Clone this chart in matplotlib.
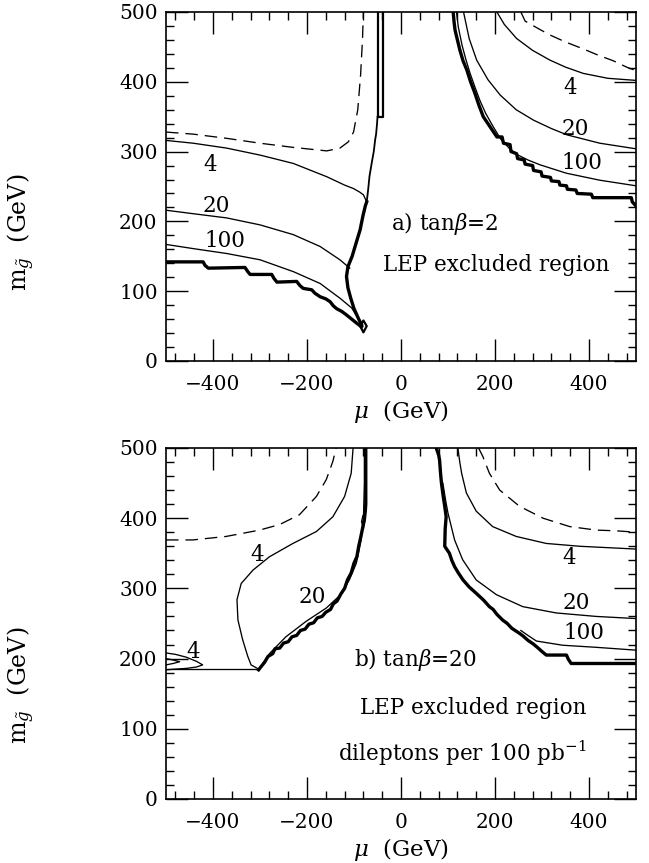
import numpy as np
import matplotlib
matplotlib.use("Agg")
import matplotlib.pyplot as plt

plt.rcParams['font.family'] = ['DejaVu Serif']
plt.rcParams['mathtext.fontset'] = 'dejavuserif'
plt.rcParams['lines.scale_dashes'] = False

# ---------------- panel a) tan(beta)=2 ----------------
# LEP boundary, left branch (staircase down to the tip)
a_lep_left_mu = [-500, -421, -417, -410, -332, -326, -321, -275, -270, -264, -222, -215, -208,
                 -190, -183, -172, -160, -151, -144, -137, -126, -116, -105, -94, -84]
a_lep_left_m = [142, 142, 137, 133, 134, 128, 124, 124, 118, 113, 114, 108, 104,
                102, 97, 92, 89, 85, 79, 75, 71, 66, 60, 54, 49]
# small diamond at the tip
a_tip_mu = [-87, -80, -73, -80, -87]
a_tip_m = [50, 58, 50, 41, 50]
# boundary rising from the tip (thick part)
a_rise_mu = [-84, -90, -100, -107, -113, -116, -113, -104, -96, -87, -81, -76, -73]
a_rise_m = [52, 60, 75, 90, 105, 121, 135, 150, 168, 188, 208, 222, 228]
# thin continuation up to the narrow strip
a_upper_mu = [-73, -70, -67, -62, -58, -55, -53, -51, -50]
a_upper_m = [228, 245, 265, 285, 300, 317, 325, 340, 350]
a_strip_mu = [-50, -50, -39, -39]
a_strip_m = [500, 350, 350, 500]
# LEP boundary, right branch
a_lep_right_mu = [111, 113, 115, 120, 125, 132, 140, 148, 157, 166, 175, 190, 204, 215, 218, 232,
                  234, 246, 248, 262, 264, 280, 282, 298, 300, 318, 320, 336, 338, 352, 354,
                  372, 375, 405, 408, 490, 492, 500]
a_lep_right_m = [500, 485, 474, 460, 446, 430, 417, 400, 384, 366, 350, 335, 321, 321, 312, 310,
                 300, 297, 290, 288, 282, 280, 273, 271, 265, 263, 258, 257, 252, 251, 246,
                 245, 240, 239, 234, 234, 228, 222]

# dilepton contours (events per 100 pb^-1), left side
a_c4_left_mu = [-500, -442, -371, -300, -229, -158, -120, -101, -88, -80, -73]
a_c4_left_m = [316, 312, 305, 295, 283, 264, 252, 247, 242, 238, 228]
a_c20_left_mu = [-500, -442, -371, -300, -229, -172, -130, -109]
a_c20_left_m = [216, 211, 205, 195, 181, 164, 145, 133]
a_c100_left_mu = [-500, -442, -371, -300, -229, -172, -130, -105, -92]
a_c100_left_m = [167, 161, 154, 145, 128, 111, 90, 76, 62]
# right side
a_c4_right_mu = [204, 220, 246, 280, 317, 350, 388, 440, 500]
a_c4_right_m = [500, 482, 462, 445, 431, 421, 412, 405, 402]
a_c20_right_mu = [133, 145, 161, 185, 211, 245, 282, 320, 353, 423, 500]
a_c20_right_m = [500, 462, 431, 403, 381, 360, 345, 333, 324, 312, 304]
a_c100_right_mu = [118, 122, 130, 138, 147, 157, 168, 180, 195, 212, 230, 246, 270, 296, 352, 423, 500]
a_c100_right_m = [500, 478, 452, 432, 412, 393, 373, 355, 337, 318, 305, 296, 288, 281, 269, 259, 251]
# dashed (LEP chargino limit)
a_dash_left_mu = [-500, -442, -371, -300, -229, -158, -130, -112, -101, -92, -86, -82, -80]
a_dash_left_m = [328, 325, 319, 312, 306, 301, 305, 314, 328, 360, 410, 460, 500]
a_dash_right_mu = [255, 264, 290, 317, 350, 388, 420, 452, 480, 500]
a_dash_right_m = [500, 487, 477, 467, 457, 447, 438, 430, 421, 416]

# ---------------- panel b) tan(beta)=20 ----------------
b_lep_left_mu = [-303, -290, -283, -273, -268, -258, -250, -240, -232, -222, -214, -204, -196,
                 -186, -178, -168, -160, -150, -144, -136, -128, -120, -114, -106, -100, -94,
                 -90, -86, -82, -78, -76, -75, -75]
b_lep_left_m = [184, 195, 203, 207, 214, 215, 222, 224, 231, 233, 240, 242, 249,
                251, 258, 260, 266, 270, 278, 282, 292, 300, 312, 322, 336, 345,
                360, 372, 385, 398, 410, 420, 500]
b_lep_right_mu = [75, 80, 82, 84, 86, 90, 93, 96, 94, 93, 103, 108, 114, 122, 132, 145, 160, 168,
                  176, 188, 196, 204, 216, 226, 236, 252, 260, 270, 281, 290, 300, 309, 352,
                  356, 362, 500]
b_lep_right_m = [500, 490, 483, 465, 450, 430, 417, 402, 385, 360, 350, 340, 331, 322, 312, 302,
                 293, 288, 283, 274, 270, 263, 255, 250, 243, 236, 232, 226, 221, 216, 210, 205,
                 205, 199, 193, 193]
b_flat_mu = [-500, -303]
b_flat_m = [185, 185]

b_c4_left_mu = [-102, -106, -120, -145, -180, -230, -280, -315, -340, -349, -347, -337, -326,
                -319, -303]
b_c4_left_m = [500, 464, 431, 402, 381, 364, 345, 326, 307, 284, 255, 227, 203, 191, 185]
b_c4_loop_mu = [-500, -480, -457, -435, -422, -435, -457, -480, -500]
b_c4_loop_m = [208, 206, 202, 196, 191, 188, 186, 185, 184]
b_c4_inner_mu = [-500, -485, -471, -485, -500]
b_c4_inner_m = [200, 198, 195.5, 193, 191]
b_c20_left_mu = [-303, -280, -245, -202, -159, -130, -110, -95, -85, -80, -78, -78]
b_c20_left_m = [184, 207, 231, 253, 272, 290, 312, 336, 369, 398, 450, 500]
b_lens_mu = [-80, -84, -81, -77, -80]
b_lens_m = [386, 395, 404, 396, 386]

b_c4_right_mu = [121, 125, 129, 139, 160, 195, 245, 309, 380, 440, 500]
b_c4_right_m = [500, 480, 464, 436, 410, 388, 374, 364, 360, 358, 356]
b_c20_right_mu = [89, 95, 100, 114, 131, 160, 203, 259, 330, 416, 500]
b_c20_right_m = [450, 425, 407, 369, 341, 312, 291, 274, 265, 260, 257]
b_c100_right_mu = [255, 270, 288, 344, 416, 500]
b_c100_right_m = [240, 233, 225, 219, 216, 212]
b_dash_left_mu = [-500, -443, -372, -301, -258, -216, -180, -159, -145, -138]
b_dash_left_m = [369, 369, 374, 383, 391, 405, 431, 455, 481, 500]
b_dash_right_mu = [165, 174, 188, 210, 252, 302, 359, 416, 458, 500]
b_dash_right_m = [500, 488, 464, 440, 417, 400, 388, 383, 382, 380]

THIN = 0.95
THICK = 2.4
DASH = (9, 5)


def style_axes(ax, ylab_y):
    ax.set_xlim(-500, 500)
    ax.set_ylim(0, 500)
    ax.set_xticks([-400, -200, 0, 200, 400])
    ax.set_xticks(np.arange(-480, 500, 40), minor=True)
    ax.set_yticks(np.arange(0, 501, 100))
    ax.set_yticks(np.arange(0, 501, 20), minor=True)
    ax.tick_params(which='both', direction='in', top=True, right=True,
                   labelsize=14.5, color='black')
    ax.tick_params(axis='x', which='both', pad=10)
    ax.tick_params(axis='y', which='both', pad=6)
    ax.tick_params(which='major', length=16, width=1.0)
    ax.tick_params(which='minor', length=6, width=1.0)
    for s in ax.spines.values():
        s.set_linewidth(1.2)
    ax.set_xlabel(r'$\mu$  (GeV)', fontsize=16.5, labelpad=3)
    ax.set_ylabel(r'm$_{\tilde{g}}$  (GeV)', fontsize=17)
    ax.yaxis.set_label_coords(-0.275, ylab_y)


fig = plt.figure(figsize=(6.49, 8.63), dpi=100)
ax1 = fig.add_axes([0.2558, 0.5817, 0.7242, 0.4044])
ax2 = fig.add_axes([0.2558, 0.0742, 0.7242, 0.4067])

# ---- panel a
k = dict(color='black')
ax1.plot(a_lep_left_mu, a_lep_left_m, lw=THICK, **k)
ax1.plot(a_tip_mu, a_tip_m, lw=1.6, **k)
ax1.plot(a_rise_mu, a_rise_m, lw=THICK, **k)
ax1.plot(a_upper_mu, a_upper_m, lw=1.3, **k)
ax1.plot(a_strip_mu, a_strip_m, lw=1.6, **k)
ax1.plot(a_lep_right_mu, a_lep_right_m, lw=THICK, **k)
for mu, m in [(a_c4_left_mu, a_c4_left_m), (a_c20_left_mu, a_c20_left_m),
              (a_c100_left_mu, a_c100_left_m), (a_c4_right_mu, a_c4_right_m),
              (a_c20_right_mu, a_c20_right_m), (a_c100_right_mu, a_c100_right_m)]:
    ax1.plot(mu, m, lw=THIN, **k)
for mu, m in [(a_dash_left_mu, a_dash_left_m), (a_dash_right_mu, a_dash_right_m)]:
    ax1.plot(mu, m, lw=THIN, dashes=DASH, **k)

tk = dict(fontsize=15.5, ha='center', va='center')
ax1.text(-407, 281, '4', **tk)
ax1.text(-393, 222, '20', **tk)
ax1.text(-375, 172, '100', **tk)
ax1.text(360, 391, '4', **tk)
ax1.text(370, 333, '20', **tk)
ax1.text(384, 283, '100', **tk)
ax1.text(92, 197, r'a) tan$\beta$=2', **tk)
ax1.text(202, 137, 'LEP excluded region', **tk)
style_axes(ax1, 0.37)

# ---- panel b
ax2.plot(b_lep_left_mu, b_lep_left_m, lw=THICK, **k)
ax2.plot(b_lep_right_mu, b_lep_right_m, lw=THICK, **k)
ax2.plot(b_flat_mu, b_flat_m, lw=THIN, **k)
for mu, m in [(b_c4_left_mu, b_c4_left_m), (b_c4_loop_mu, b_c4_loop_m),
              (b_c4_inner_mu, b_c4_inner_m), (b_c20_left_mu, b_c20_left_m),
              (b_lens_mu, b_lens_m), (b_c4_right_mu, b_c4_right_m),
              (b_c20_right_mu, b_c20_right_m), (b_c100_right_mu, b_c100_right_m)]:
    ax2.plot(mu, m, lw=THIN, **k)
for mu, m in [(b_dash_left_mu, b_dash_left_m), (b_dash_right_mu, b_dash_right_m)]:
    ax2.plot(mu, m, lw=THIN, dashes=DASH, **k)

ax2.text(-443, 210, '4', **tk)
ax2.text(-305, 348, '4', **tk)
ax2.text(-188, 288, '20', **tk)
ax2.text(358, 343, '4', **tk)
ax2.text(373, 279, '20', **tk)
ax2.text(390, 236, '100', **tk)
ax2.text(30, 198, r'b) tan$\beta$=20', **tk)
ax2.text(153, 130, 'LEP excluded region', **tk)
ax2.text(130, 65, r'dileptons per 100 pb$^{-1}$', **tk)
style_axes(ax2, 0.325)

fig.savefig('out.png', dpi=100)
